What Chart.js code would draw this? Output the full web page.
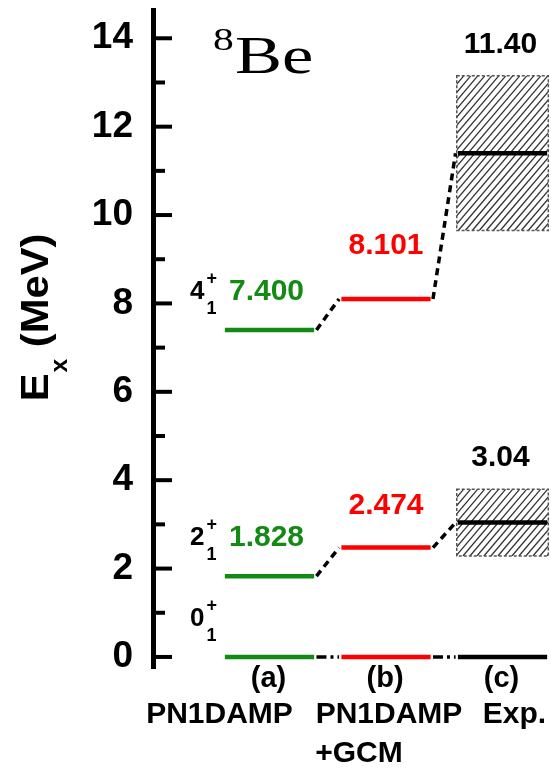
<!DOCTYPE html>
<html><head><meta charset="utf-8">
<script src="https://cdn.jsdelivr.net/npm/chart.js@4.4.1/dist/chart.umd.min.js"></script>
<style>html,body{margin:0;padding:0;background:#fff;} canvas{display:block;}</style>
</head><body>
<canvas id="c" width="551" height="770"></canvas>
<script>
// ---------- data ----------
const columns = ['(a)', '(b)', '(c)'];
const methodNames = [['PN1DAMP'], ['PN1DAMP', '+GCM'], ['Exp.']];
const spins = ['0', '2', '4'];
const pn1damp = [0, 1.828, 7.400];
const pn1dampGcm = [0, 2.474, 8.101];
const experiment = [0, 3.04, 11.40];
const expWidths = [0, 1.513, 3.5];
const pn1dampLabels = ['', '1.828', '7.400'];
const pn1dampGcmLabels = ['', '2.474', '8.101'];
const experimentLabels = ['', '3.04', '11.40'];
const yTickValues = [0, 1, 2, 3, 4, 5, 6, 7, 8, 9, 10, 11, 12, 13, 14];
const yTickLabels = ['0', '', '2', '', '4', '', '6', '', '8', '', '10', '', '12', '', '14'];

// ---------- style / layout ----------
const SANS = '"Liberation Sans", Arial, sans-serif';
const SERIF = '"Liberation Serif", "Times New Roman", serif';
const STYLE = {
  colors: ['#138a13', '#ff0000', '#000000'],
  levelHalf: 0.383,
  boxHalf: 0.393,
  levelWidth: 4.5,
  valueFont: 'bold 30px ' + SANS,
  valueDx: [-3, 0, -2],
  valueDy: [[0, -38, -38], [0, -42, -53]],
  expLabelDy: -31,
  bottomLetterY: 679,
  methodY: [715, 754],
  methodDx: [[-50], [3, -27], [12]]
};

const series = [pn1damp, pn1dampGcm, experiment];
const valueLabels = [pn1dampLabels, pn1dampGcmLabels, experimentLabels];

const datasets = [];
series.forEach((vals, i) => {
  vals.forEach(v => {
    datasets.push({
      data: [{x: i + 1 - STYLE.levelHalf, y: v}, {x: i + 1 + STYLE.levelHalf, y: v}],
      borderColor: STYLE.colors[i], borderWidth: STYLE.levelWidth,
      pointRadius: 0, borderCapStyle: 'butt', fill: false, tension: 0
    });
  });
});
for (let i = 0; i < 2; i++) {
  series[i].forEach((v, j) => {
    datasets.push({
      data: [{x: i + 1 + STYLE.levelHalf + 0.02, y: v}, {x: i + 2 - STYLE.levelHalf - 0.02, y: series[i + 1][j]}],
      borderColor: '#000', borderWidth: 3.5,
      borderDash: j === 0 ? [10, 4, 3, 4] : [7, 5],
      pointRadius: 0, borderCapStyle: 'butt', fill: false, tension: 0
    });
  });
}

const decor = {
  id: 'decor',
  beforeDatasetsDraw(chart) {
    const ctx = chart.ctx, xs = chart.scales.x, ys = chart.scales.y;
    experiment.forEach((v, j) => {
      const w = expWidths[j];
      if (!w) return;
      const x1 = xs.getPixelForValue(3 - STYLE.boxHalf), x2 = xs.getPixelForValue(3 + STYLE.boxHalf);
      const yT = ys.getPixelForValue(v + w / 2), yB = ys.getPixelForValue(v - w / 2);
      ctx.save();
      ctx.beginPath(); ctx.rect(x1, yT, x2 - x1, yB - yT); ctx.clip();
      ctx.strokeStyle = '#333'; ctx.lineWidth = 1.3;
      const h = yB - yT, k = 0.85;
      for (let x = x1 - h * k; x < x2 + 2; x += 7) {
        ctx.beginPath(); ctx.moveTo(x, yB); ctx.lineTo(x + h * k, yT); ctx.stroke();
      }
      ctx.restore();
      ctx.save();
      ctx.strokeStyle = '#555'; ctx.lineWidth = 1.5; ctx.setLineDash([3, 2]);
      ctx.strokeRect(x1, yT, x2 - x1, yB - yT);
      ctx.restore();
    });
  },
  afterDraw(chart) {
    const ctx = chart.ctx, xs = chart.scales.x, ys = chart.scales.y;
    const ax = ys.right;
    ctx.save();
    // inward tick marks
    ctx.strokeStyle = '#000'; ctx.lineWidth = 4; ctx.lineCap = 'butt';
    yTickValues.forEach((v, i) => {
      const y = ys.getPixelForValue(v);
      ctx.beginPath(); ctx.moveTo(ax, y); ctx.lineTo(ax + (yTickLabels[i] ? 19 : 12), y); ctx.stroke();
    });
    ctx.fillStyle = '#000';
    // y-axis title
    ctx.save();
    ctx.translate(48, 318);
    ctx.rotate(-Math.PI / 2);
    ctx.scale(1.07, 1);
    ctx.font = 'bold 39px ' + SANS;
    const wE = ctx.measureText('E').width;
    ctx.font = 'bold 23px ' + SANS;
    const wx = ctx.measureText('x').width;
    ctx.font = 'bold 39px ' + SANS;
    const wRest = ctx.measureText(' (MeV)').width;
    let sx = -(wE + wx + wRest) / 2;
    ctx.textBaseline = 'alphabetic'; ctx.textAlign = 'left';
    ctx.fillText('E', sx, 0); sx += wE;
    ctx.font = 'bold 23px ' + SANS; ctx.fillText('x', sx + 1, 19); sx += wx + 1;
    ctx.font = 'bold 39px ' + SANS; ctx.fillText(' (MeV)', sx, 0);
    ctx.restore();
    // nucleus title
    ctx.save();
    ctx.textBaseline = 'alphabetic'; ctx.textAlign = 'left';
    ctx.translate(235, 73); ctx.scale(1.33, 1);
    ctx.font = '53px ' + SERIF; ctx.fillText('Be', 0, 0);
    ctx.restore();
    ctx.save();
    ctx.translate(213, 50); ctx.scale(1.3, 1);
    ctx.font = '32px ' + SERIF; ctx.textBaseline = 'alphabetic'; ctx.fillText('8', 0, 0);
    ctx.restore();
    // spin labels
    ctx.textBaseline = 'middle'; ctx.textAlign = 'left';
    spins.forEach((s, j) => {
      const y = ys.getPixelForValue(pn1damp[j]) - 38;
      ctx.font = 'bold 26px ' + SANS;
      ctx.fillText(s, 190, y);
      const w = ctx.measureText(s).width;
      ctx.font = 'bold 18px ' + SANS;
      ctx.fillText('+', 190 + w + 2, y - 13);
      ctx.fillText('1', 190 + w + 2, y + 17);
    });
    // value labels
    ctx.font = STYLE.valueFont; ctx.textAlign = 'center'; ctx.textBaseline = 'middle';
    valueLabels.forEach((labs, i) => {
      labs.forEach((t, j) => {
        if (!t) return;
        const x = xs.getPixelForValue(i + 1) + STYLE.valueDx[i];
        let y;
        if (i === 2) y = ys.getPixelForValue(series[i][j] + expWidths[j] / 2) + STYLE.expLabelDy;
        else y = ys.getPixelForValue(series[i][j]) + STYLE.valueDy[i][j];
        ctx.fillStyle = STYLE.colors[i];
        ctx.fillText(t, x, y);
      });
    });
    // bottom labels
    ctx.fillStyle = '#000';
    columns.forEach((c, i) => {
      const xc = xs.getPixelForValue(i + 1);
      ctx.font = 'bold 29px ' + SANS;
      ctx.fillText(c, xc - 1, STYLE.bottomLetterY);
      ctx.font = 'bold 30px ' + SANS;
      methodNames[i].forEach((m, k) => {
        ctx.fillText(m, xc + STYLE.methodDx[i][k], STYLE.methodY[k]);
      });
    });
    ctx.restore();
  }
};

new Chart(document.getElementById('c'), {
  type: 'line',
  data: {datasets},
  options: {
    responsive: false, animation: false, devicePixelRatio: 1,
    parsing: false, normalized: true,
    layout: {padding: {top: 10, bottom: 102, left: 0, right: 0}},
    plugins: {legend: {display: false}, tooltip: {enabled: false}},
    scales: {
      x: {type: 'linear', min: 0, max: 3.416, display: false},
      y: {
        type: 'linear', min: -0.25, max: 14.64,
        afterBuildTicks: s => { s.ticks = yTickValues.map(v => ({value: v})); },
        afterFit: s => { s.width = 153; s.paddingTop = 0; s.paddingBottom = 0; },
        grid: {display: false, drawTicks: false},
        border: {display: true, width: 5, color: '#000'},
        ticks: {
          autoSkip: false, padding: 20, color: '#000',
          font: {family: SANS, size: 37, weight: 'bold'},
          callback: v => yTickLabels[yTickValues.indexOf(v)]
        }
      }
    }
  },
  plugins: [decor]
});
</script>
</body></html>
